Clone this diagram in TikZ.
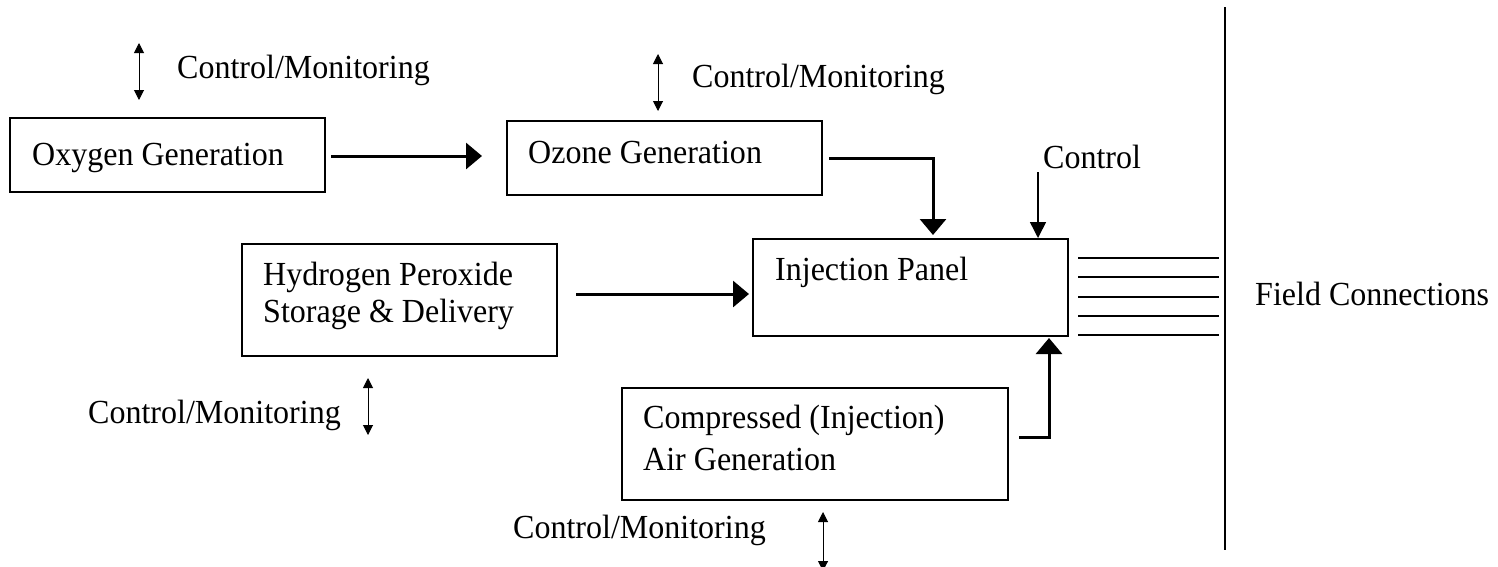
\documentclass[tikz,border=0pt]{standalone}
\usepackage{fontspec}
\setmainfont{Liberation Serif}
\newfontfamily\tallserif[FakeStretch=0.95]{Liberation Serif}
\usetikzlibrary{arrows.meta}
\begin{document}
\begin{tikzpicture}[x=1pt,y=-1pt,
  box/.style={draw,line width=2pt,rectangle,inner sep=0pt},
  lbl/.style={anchor=base west,inner sep=0pt,font=\tallserif\fontsize{33.7}{37}\selectfont,align=left},
  flow/.style={line width=3pt,-{Triangle[length=16pt,width=26pt]}},
  ctrl/.style={line width=1.5pt,-{Triangle[length=16pt,width=16pt]}},
  bidir/.style={line width=1pt,{Triangle[length=10pt,width=10pt]}-{Triangle[length=10pt,width=10pt]}},
  wire/.style={line width=2pt}]
\useasboundingbox (0,0) rectangle (1498,566);
% boxes
\node[box,minimum width=315pt,minimum height=74pt] (oxy) at (167.5,155) {};
\node[box,minimum width=315pt,minimum height=74pt] (ozone) at (664.5,158) {};
\node[box,minimum width=315pt,minimum height=112pt] (hp) at (399.5,300) {};
\node[box,minimum width=315pt,minimum height=97pt] (inj) at (910.5,287.5) {};
\node[box,minimum width=386pt,minimum height=112pt] (comp) at (815,444) {};
% box texts (base anchor = last line baseline)
\node[lbl] (toxy) at (32,165) {Oxygen Generation};
\node[lbl] (tozone) at (528,163) {Ozone Generation};
\node[lbl] (thp) at (263,322) {Hydrogen Peroxide\\Storage \& Delivery};
\node[lbl] (tinj) at (775,280) {Injection Panel};
\node[lbl] (tcomp) at (643,470) {Compressed (Injection)\\[5pt]Air Generation};
% other texts
\node[lbl] (cm1) at (177,78) {Control/Monitoring};
\node[lbl] (cm2) at (692,87) {Control/Monitoring};
\node[lbl] (cm3) at (88,423) {Control/Monitoring};
\node[lbl] (cm4) at (513,538) {Control/Monitoring};
\node[lbl] (tctl) at (1043,168) {Control};
\node[lbl] (tfield) at (1255,305) {Field Connections};
% flow arrows
\coordinate (a1) at (331,156);
\draw[flow] (a1) -- (a1 -| ozone.west) [shorten >=24pt];
\draw[flow,shorten <=6pt] (ozone.east) -| ([xshift=22.5pt,yshift=3pt]inj.north);
\coordinate (h1) at (576,294);
\draw[flow,shorten >=3pt] (h1) -- (h1 -| inj.west);
\coordinate (c1) at (1019,437);
\draw[flow] (c1) -| ([xshift=138.5pt,yshift=-1pt]inj.south);
\coordinate (ctl) at (1038,172);
\draw[ctrl] (ctl) -- (ctl |- inj.north);
% control/monitoring arrows
\coordinate (b1a) at (139,43); \coordinate (b1b) at (139,100);
\draw[bidir] (b1a) -- (b1b);
\coordinate (b2a) at (658,54); \coordinate (b2b) at (658,111);
\draw[bidir] (b2a) -- (b2b);
\coordinate (b3a) at (368,378); \coordinate (b3b) at (368,435);
\draw[bidir] (b3a) -- (b3b);
\coordinate (b4a) at (823,512); \coordinate (b4b) at (823,571);
\draw[bidir] (b4a) -- (b4b);
% field connections
\foreach \i in {0,...,4}{
  \coordinate (f\i) at (1078,258+19.25*\i);
  \draw[wire] (f\i) -- ++(141,0);
}
\coordinate (v1) at (1225,7); \coordinate (v2) at (1225,550);
\draw[wire] (v1) -- (v2);
\end{tikzpicture}
\end{document}
